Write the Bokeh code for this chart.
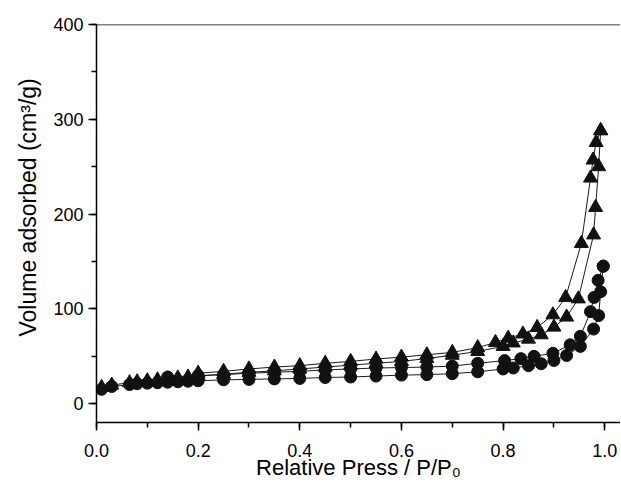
from bokeh.plotting import figure
from bokeh.models import Range1d, SingleIntervalTicker, Span, Title, PrintfTickFormatter
from bokeh.embed import file_html
from bokeh.resources import INLINE

# ---- data ----
tri_ads_x = [0.01, 0.03, 0.065, 0.08, 0.10, 0.12, 0.14, 0.16, 0.18, 0.20, 0.25, 0.30, 0.35, 0.40,
             0.45, 0.50, 0.55, 0.60, 0.65, 0.70, 0.75, 0.80, 0.82, 0.85, 0.875, 0.90, 0.925,
             0.948, 0.978, 0.982, 0.988, 0.992]
tri_ads_y = [17, 19.5, 22, 23, 24, 25, 26, 27, 28, 29, 31, 33, 34.5, 36.5,
             38.5, 40.5, 42.5, 44.5, 47.5, 51, 55, 60.3, 64, 68, 72.6, 80.7, 91.3,
             110.5, 178, 207, 250, 288]

tri_des_x = [0.992, 0.983, 0.977, 0.972, 0.954, 0.923, 0.898, 0.867, 0.839, 0.810, 0.785,
             0.75, 0.70, 0.65, 0.60, 0.55, 0.50, 0.45, 0.40, 0.35, 0.30, 0.25, 0.20]
tri_des_y = [288, 275.5, 257, 238, 169, 112, 93.7, 80.3, 73.4, 69, 64.5,
             59, 54, 51.5, 49, 47, 44.5, 42.5, 40, 38.5, 36.5, 34, 32]

cir_ads_x = [0.01, 0.03, 0.065, 0.08, 0.10, 0.12, 0.14, 0.16, 0.18, 0.20, 0.25, 0.30, 0.35, 0.40,
             0.45, 0.50, 0.55, 0.60, 0.65, 0.70, 0.75, 0.80, 0.82, 0.85, 0.875, 0.90, 0.925,
             0.952, 0.978, 0.988, 0.992, 0.997]
cir_ads_y = [15, 18, 20, 21, 21.5, 22, 22.5, 23, 23.5, 24, 25, 25.5, 26, 26.5,
             27.5, 28, 29, 30, 30.5, 31.5, 33.5, 36.5, 37.5, 40, 42, 45.5, 50.7,
             60.3, 78.6, 92.8, 118, 145]

cir_des_x = [0.997, 0.987, 0.979, 0.972, 0.952, 0.932, 0.898, 0.861, 0.835, 0.803,
             0.75, 0.70, 0.65, 0.60, 0.55, 0.50, 0.45, 0.40, 0.35, 0.30, 0.25, 0.20, 0.14]
cir_des_y = [145, 130, 112, 97, 70.9, 62, 53, 49.8, 47.4, 45.3,
             42.5, 39.5, 38.5, 38, 37.5, 36.5, 35.5, 34, 33, 32, 30.5, 29.5, 28]

x_title = "Relative Press / P/P\u2080"
y_title = "Volume adsorbed (cm\u00b3/g)"

FONT = "Liberation Sans"

p = figure(width=620, height=482, output_backend="svg", toolbar_location=None,
           x_range=Range1d(0, 1.031), y_range=Range1d(-20, 400),
           min_border_left=96, min_border_right=0, min_border_top=24, min_border_bottom=59)
p.outline_line_color = None
p.xgrid.grid_line_color = None
p.ygrid.grid_line_color = None
p.background_fill_color = "white"
p.border_fill_color = "white"

for ax in (p.xaxis[0], p.yaxis[0]):
    ax.axis_line_color = "black"
    ax.axis_line_width = 1.5
    ax.major_tick_line_color = "black"
    ax.major_tick_line_width = 1.5
    ax.minor_tick_line_color = "black"
    ax.minor_tick_line_width = 1.5
    ax.major_tick_out = 8
    ax.major_tick_in = 0
    ax.minor_tick_out = 5
    ax.minor_tick_in = 0
    ax.major_label_text_font = FONT
    ax.major_label_text_font_size = "18px"
    ax.major_label_text_color = "black"

p.xaxis[0].ticker = SingleIntervalTicker(interval=0.2, num_minor_ticks=2)
p.xaxis[0].formatter = PrintfTickFormatter(format="%.1f")
p.yaxis[0].ticker = SingleIntervalTicker(interval=100, num_minor_ticks=2)
p.xaxis[0].major_label_standoff = 13
p.yaxis[0].major_label_standoff = 5

p.xaxis[0].axis_label = x_title
p.xaxis[0].axis_label_text_font = FONT
p.xaxis[0].axis_label_text_font_size = "22px"
p.xaxis[0].axis_label_text_font_style = "normal"
p.xaxis[0].axis_label_text_color = "black"
p.xaxis[0].axis_label_standoff = -5

p.add_layout(Title(text=y_title, align="left", offset=86, text_font=FONT,
                   text_font_size="23px", text_font_style="normal", text_color="black",
                   standoff=19), "left")

p.add_layout(Span(location=400, dimension="width", line_color="black", line_width=1.5))

line_kw = dict(line_color="#1a1a1a", line_width=1)
p.line(tri_ads_x, tri_ads_y, **line_kw)
p.line(tri_des_x, tri_des_y, **line_kw)
p.line(cir_ads_x, cir_ads_y, **line_kw)
p.line(cir_des_x, cir_des_y, **line_kw)

p.scatter(cir_ads_x, cir_ads_y, marker="circle", size=12, fill_color="#111111", line_color="#111111")
p.scatter(cir_des_x, cir_des_y, marker="circle", size=12, fill_color="#111111", line_color="#111111")
p.scatter(tri_ads_x, tri_ads_y, marker="triangle", size=14, fill_color="#111111", line_color="#111111")
p.scatter(tri_des_x, tri_des_y, marker="triangle", size=14, fill_color="#111111", line_color="#111111")

open("out.html", "w").write(file_html(p, INLINE))
